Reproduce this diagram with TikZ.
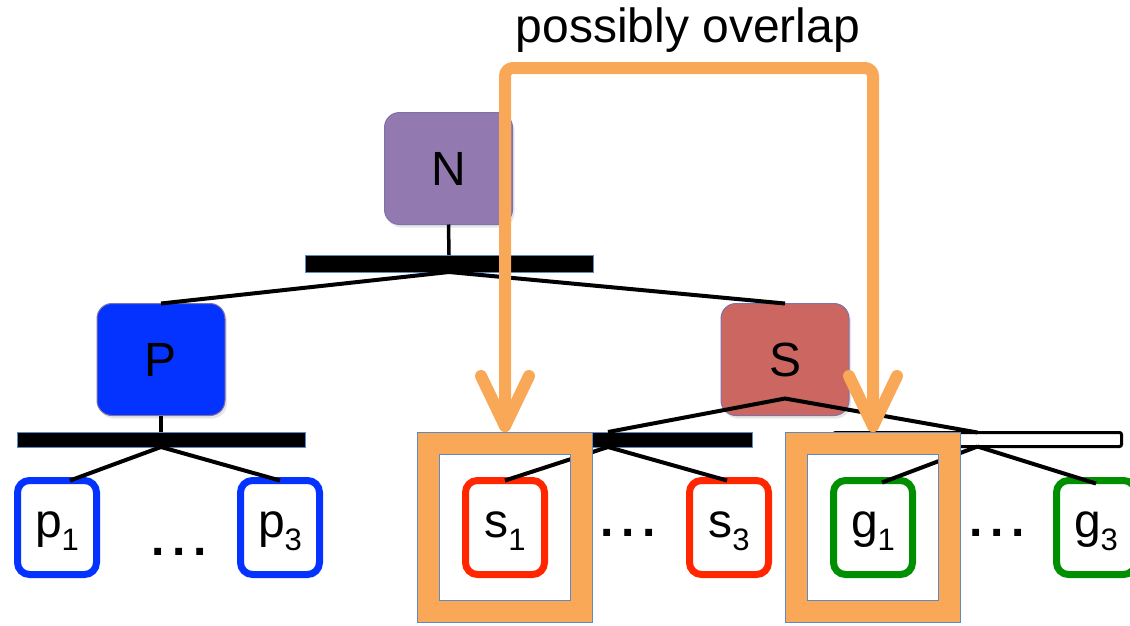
\documentclass[tikz,border=0pt]{standalone}
\usepackage{fontspec}
\setmainfont{Liberation Sans}
\usetikzlibrary{calc,shadows}
\definecolor{nfill}{HTML}{9279B0}
\definecolor{pfill}{HTML}{0433FF}
\definecolor{sfill}{HTML}{CC6660}
\definecolor{boxedge}{HTML}{7F72A8}
\definecolor{pcol}{HTML}{0433FF}
\definecolor{scol}{HTML}{FF2600}
\definecolor{gcol}{HTML}{008F00}
\definecolor{ovl}{HTML}{F9A857}
\definecolor{barblue}{HTML}{5B8AC6}
\newcommand\subl[2]{#1\raisebox{-13pt}{\fontsize{31}{31}\selectfont #2}}
\newcommand\threedots{\bfseries .\hspace{7.5pt}.\hspace{7.5pt}.}
\begin{document}
\begin{tikzpicture}[x=1pt,y=-1pt,
  every node/.style={font=\fontsize{48}{56}\selectfont, inner sep=0pt, outer sep=0pt},
  bigbox/.style={rectangle, rounded corners=15pt, draw=boxedge, line width=1pt,
    minimum width=128pt, minimum height=112pt,
    drop shadow={opacity=.2, shadow xshift=2pt, shadow yshift=-3pt}},
  leaf/.style={rectangle, rounded corners=12pt, fill=white, line width=7pt,
    minimum width=79pt, minimum height=94pt, text height=25pt, text depth=6pt,
    drop shadow={opacity=.15, shadow xshift=2pt, shadow yshift=-3pt}},
  bar/.style={rectangle, fill=black, draw=barblue, line width=1pt,
    minimum width=288pt, minimum height=15pt},
  tline/.style={line width=4pt, draw=black},
  stem/.style={line width=3.5pt, draw=black},
  oframe/.style={rectangle, draw=barblue, line width=1pt, double=ovl,
    double distance=21pt, minimum width=153pt, minimum height=168pt},
  oline/.style={draw=ovl, line width=12pt, line cap=round, line join=round}
]
\useasboundingbox (0,0) rectangle (1130,625);

% title
\node[anchor=base] (title) at (688,42) {possibly overlap};

% inner nodes
\node[bigbox, fill=nfill] (N) at (448.5,168.5) {N};
\node[bigbox, fill=pfill] (P) at (161,359.5) {P};
\node[bigbox, fill=sfill] (S) at (785,359.5) {S};

% bars
\node[bar, minimum height=17pt] (nbar) at (449,263.5) {};
\node[bar] (pbar) at (161,439.5) {};
\node[bar] (sbar) at (608,439.5) {};
\node[rectangle, fill=white, draw=black, line width=3pt, rounded corners=2pt,
  minimum width=288pt, minimum height=14pt] (gbar) at (977.5,439.5) {};

% leaves
\node[leaf, draw=pcol] (p1) at (57,527.5) {\subl{p}{1}};
\node[leaf, draw=pcol] (p3) at (280,527.5) {\subl{p}{3}};
\node[leaf, draw=scol] (s1) at (505,527.5) {\subl{s}{1}};
\node[leaf, draw=scol] (s3) at (729,527.5) {\subl{s}{3}};
\node[leaf, draw=gcol] (g1) at (873,527.5) {\subl{g}{1}};
\node[leaf, draw=gcol] (g3) at (1096,527.5) {\subl{g}{3}};

% dots
\node[anchor=base] (pdots) at (179,555) {\threedots};
\node[anchor=base] (sdots) at (628,536) {\threedots};
\node[anchor=base] (gdots) at (997,536) {\threedots};

% tree lines
\draw[stem] (N.south) -- (nbar.north);
\draw[tline] (nbar.south) -- (P.north);
\draw[tline] (nbar.south) -- (S.north);
\draw[stem] (P.south) -- (pbar.north);
\draw[tline] (pbar.south) -- ([xshift=13pt]p1.north);
\draw[tline] (pbar.south) -- (p3.north);
\coordinate (sapex) at ([yshift=17pt]S.south);
\draw[tline] (sbar.north) -- (sapex) -- (gbar.north);
\draw[tline] (sbar.south) -- (s1.north);
\draw[tline] (sbar.south) -- ([xshift=-2pt]s3.north);
\draw[tline] (gbar.south) -- ([xshift=9pt,yshift=-2pt]g1.north);
\draw[tline] (gbar.south) -- ([yshift=-3pt]g3.north);

% orange frames
\node[oframe] (ob1) at (505,527.5) {};
\node[oframe] (ob2) at (873,527.5) {};

% orange connector
\coordinate (t1) at ([yshift=17.5pt]ob1.north);
\coordinate (t2) at ([yshift=17.5pt]ob2.north);
\coordinate (ovtop) at (690,68);
\draw[oline, rounded corners=8pt] (t1) |- (ovtop) -| (t2);
\draw[oline] ($(t1)+(-24,-50)$) -- (t1) -- ($(t1)+(24,-50)$);
\draw[oline] ($(t2)+(-24,-50)$) -- (t2) -- ($(t2)+(24,-50)$);
\end{tikzpicture}
\end{document}
